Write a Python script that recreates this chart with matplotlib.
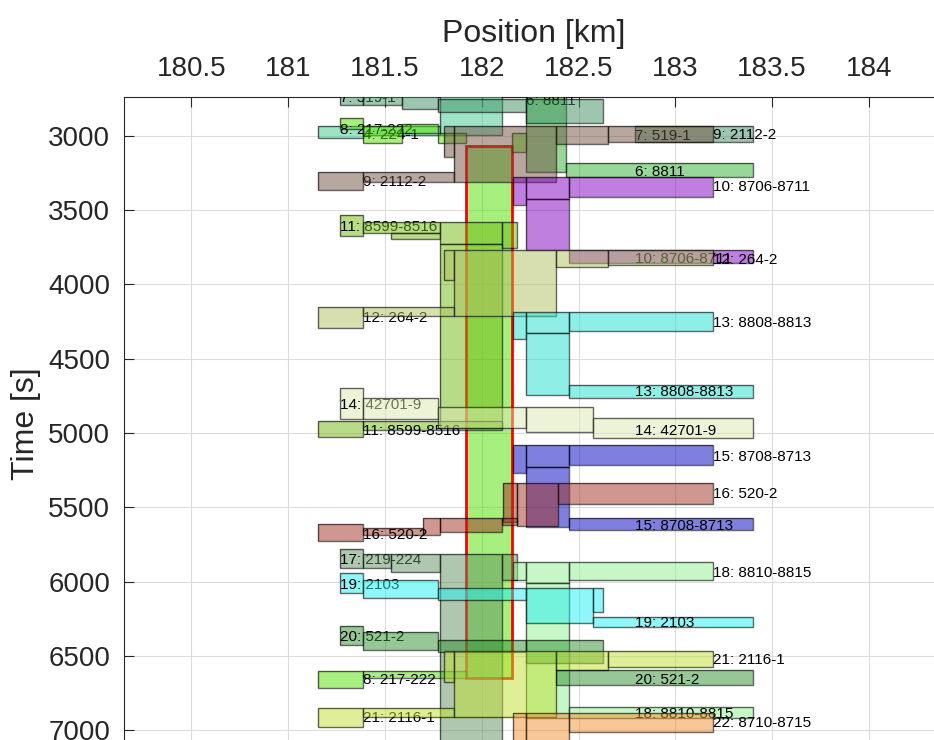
import matplotlib
matplotlib.use('Agg')
import matplotlib.pyplot as plt
from matplotlib.patches import Rectangle

plt.rcParams['font.family'] = ['Liberation Sans', 'DejaVu Sans']

# blocks: (x_start km, x_end km, t_start s, t_end s); labels: (x km, t s, blocks drawn before label)
names = {4: '224-1', 6: '8811', 7: '519-1', 8: '217-222', 9: '2112-2', 10: '8706-8711',
         11: '8599-8516', 12: '264-2', 13: '8808-8813', 14: '42701-9', 15: '8708-8713',
         16: '520-2', 17: '219-224', 18: '8810-8815', 19: '2103', 20: '521-2',
         21: '2116-1', 22: '8710-8715'}

blocks_4 = [(181.155, 181.387, 2936, 3017), (181.387, 181.785, 2936, 2997),
            (181.785, 182.105, 2600, 2997)]
labels_4 = [(181.387, 2997, 3)]

blocks_6 = [(182.229, 182.435, 2600, 3245), (182.435, 183.401, 3185, 3279)]
labels_6 = [(182.229, 2770, 1), (182.792, 3245, 2)]

blocks_7 = [(181.268, 181.387, 2600, 2795), (181.387, 181.588, 2600, 2795),
            (181.588, 181.774, 2728, 2822), (181.774, 182.229, 2755, 2842),
            (182.229, 182.627, 2755, 2916), (182.792, 183.401, 2936, 3044)]
labels_7 = [(181.268, 2748, 1), (182.792, 3003, 6)]

blocks_8 = [(181.268, 181.387, 2882, 2956), (181.387, 181.588, 2936, 3050),
            (181.588, 181.774, 2923, 2983), (181.774, 181.919, 2983, 3050),
            (182.157, 182.229, 2983, 3111),
            (181.387, 181.919, 6602, 6648), (181.155, 181.387, 6602, 6716)]
labels_8 = [(181.268, 2963, 1), (181.387, 6662, 7)]
highlight_8 = (181.919, 182.157, 3071, 6648)

blocks_9 = [(181.155, 181.387, 3245, 3367), (181.387, 181.857, 3245, 3313),
            (181.805, 181.857, 2936, 3145), (181.857, 182.384, 2936, 3313),
            (182.384, 182.652, 2936, 3057), (182.652, 183.195, 2936, 3044)]
labels_9 = [(181.387, 3313, 1), (183.195, 2997, 6)]

blocks_10 = [(182.162, 182.229, 3279, 3467), (182.229, 182.451, 3279, 3427),
             (182.451, 183.195, 3279, 3414), (182.229, 182.451, 3427, 3770),
             (182.451, 183.401, 3770, 3857)]
labels_10 = [(183.195, 3346, 3), (182.792, 3831, 5)]

blocks_11 = [(181.268, 181.387, 3535, 3676), (181.387, 181.785, 3582, 3656),
             (181.532, 181.785, 3656, 3696), (181.785, 182.105, 3582, 3730),
             (182.105, 182.182, 3582, 3757), (181.785, 182.105, 3730, 4968),
             (181.387, 182.105, 4920, 4981), (181.155, 181.387, 4920, 5027)]
labels_11 = [(181.268, 3615, 1), (181.387, 4988, 8)]

blocks_12 = [(181.155, 181.387, 4153, 4295), (181.387, 181.857, 4153, 4214),
             (181.805, 181.857, 3770, 3972), (181.857, 182.384, 3770, 4214),
             (182.384, 182.652, 3770, 3884), (182.652, 183.195, 3770, 3871)]
labels_12 = [(181.387, 4227, 1), (183.195, 3837, 6)]

blocks_13 = [(182.162, 182.229, 4185, 4369), (182.229, 182.451, 4185, 4328),
             (182.451, 183.195, 4185, 4315), (182.229, 182.451, 4328, 4745),
             (182.451, 183.401, 4678, 4765)]
labels_13 = [(183.195, 4261, 3), (182.792, 4725, 5)]

blocks_14 = [(181.268, 181.387, 4698, 4907), (181.387, 181.774, 4765, 4907),
             (181.774, 182.229, 4826, 4968), (182.229, 182.575, 4826, 4994),
             (182.575, 183.401, 4900, 5034)]
labels_14 = [(181.268, 4813, 1), (182.792, 4988, 5)]

blocks_15 = [(182.162, 182.229, 5081, 5270), (182.229, 182.451, 5081, 5229),
             (182.451, 183.195, 5081, 5216), (182.229, 182.451, 5229, 5633),
             (182.451, 183.401, 5572, 5653)]
labels_15 = [(183.195, 5162, 3), (182.792, 5626, 5)]

blocks_16 = [(182.110, 182.182, 5337, 5599), (182.182, 182.394, 5337, 5626),
             (182.394, 183.195, 5337, 5478), (182.105, 182.182, 5572, 5619),
             (181.785, 182.105, 5572, 5666), (181.697, 181.785, 5572, 5687),
             (181.387, 181.697, 5639, 5687), (181.155, 181.387, 5613, 5727)]
labels_16 = [(183.195, 5411, 3), (181.387, 5687, 8)]

blocks_17 = [(181.268, 181.387, 5781, 5908), (181.387, 181.532, 5814, 5908),
             (181.532, 181.785, 5814, 5935), (181.785, 182.105, 5814, 7250),
             (182.105, 182.182, 5814, 5989)]
labels_17 = [(181.268, 5855, 1)]

blocks_18 = [(182.162, 182.229, 5868, 5989), (182.229, 182.451, 5868, 6009),
             (182.451, 183.195, 5868, 5989), (182.229, 182.451, 6009, 6918),
             (182.451, 183.401, 6843, 6918)]
labels_18 = [(183.195, 5942, 3), (182.792, 6891, 5)]

blocks_19 = [(181.268, 181.387, 5942, 6077), (181.387, 181.774, 5989, 6110),
             (181.774, 182.229, 6043, 6124), (182.229, 182.575, 6043, 6278),
             (182.575, 182.627, 6043, 6205), (182.575, 183.401, 6238, 6305)]
labels_19 = [(181.268, 6023, 1), (182.792, 6278, 6)]

blocks_20 = [(181.268, 181.387, 6300, 6427), (181.387, 181.774, 6339, 6460),
             (181.774, 182.229, 6393, 6474), (182.229, 182.627, 6393, 6548),
             (182.384, 183.401, 6595, 6696)]
labels_20 = [(181.268, 6373, 1), (182.792, 6662, 5)]

blocks_21 = [(181.155, 181.387, 6850, 6978), (181.387, 181.857, 6850, 6911),
             (181.805, 181.857, 6467, 6675), (181.857, 182.384, 6467, 6911),
             (182.384, 182.652, 6467, 6595), (182.652, 183.195, 6467, 6575)]
labels_21 = [(181.387, 6918, 1), (183.195, 6527, 6)]

blocks_22 = [(182.162, 182.229, 6884, 7250), (182.229, 182.451, 6884, 7250),
             (182.451, 183.195, 6884, 7012)]
labels_22 = [(183.195, 6951, 3)]

colours = {4: '#40c890', 6: '#30b030', 7: '#3f8f60', 8: '#50e000', 9: '#705040',
           10: '#8000c0', 11: '#70b810', 12: '#b0c060', 13: '#20e0d0', 14: '#dce8b0',
           15: '#0000c0', 16: '#a03020', 17: '#609060', 18: '#90f090', 19: '#20f0f0',
           20: '#309030', 21: '#c0e030', 22: '#f09030'}

trains = [4, 6, 7, 8, 9, 10, 11, 12, 13, 14, 15, 16, 17, 18, 19, 20, 21, 22]

fig = plt.figure(figsize=(9.34, 7.4), dpi=100)
ax = fig.add_axes([0.13276, -0.01351, 0.87794, 0.88243])

z = 2
for n in trains:
    blocks = globals()['blocks_%d' % n]
    labels = globals()['labels_%d' % n]
    col = colours[n]
    if n == 8:
        x0, x1, t0, t1 = highlight_8
        ax.add_patch(Rectangle((x0, t0), x1 - x0, t1 - t0,
                               fc=(0.31, 0.88, 0.0, 0.5), ec='red', lw=2, zorder=z))
        z += 1
    for i in range(len(blocks) + 1):
        for lx, lt, k in labels:
            if k == i:
                ax.text(lx, lt, '%d: %s' % (n, names[n]), fontsize=11, va='center',
                        ha='left', color='black', zorder=z, clip_on=True)
                z += 1
        if i < len(blocks):
            x0, x1, t0, t1 = blocks[i]
            ax.add_patch(Rectangle((x0, t0), x1 - x0, t1 - t0, facecolor=col, alpha=0.5,
                                   edgecolor='none', zorder=z))
            ax.add_patch(Rectangle((x0, t0), x1 - x0, t1 - t0, facecolor='none',
                                   edgecolor=(0, 0, 0, 0.6), lw=1.0, zorder=z))
            z += 1

ax.set_xlim(180.152, 184.388)
ax.set_ylim(7133, 2741)
ax.xaxis.tick_top()
ax.xaxis.set_label_position('top')
ax.set_xticks([180.5, 181, 181.5, 182, 182.5, 183, 183.5, 184])
ax.set_xticklabels(['180.5', '181', '181.5', '182', '182.5', '183', '183.5', '184'])
ax.set_yticks([3000, 3500, 4000, 4500, 5000, 5500, 6000, 6500, 7000])
ax.tick_params(direction='in', length=7, width=0.8, labelsize=20, colors='#262626')
ax.tick_params(axis='x', pad=11)
ax.tick_params(axis='y', pad=10)
ax.set_xlabel('Position [km]', fontsize=23, color='#262626', labelpad=10)
ax.set_ylabel('Time [s]', fontsize=23, color='#262626', labelpad=5)
ax.grid(True, color='#dcdcdc', lw=0.8)
ax.set_axisbelow(True)
for s in ax.spines.values():
    s.set_color('#262626')
    s.set_linewidth(0.8)

fig.savefig('out.png', dpi=100)
